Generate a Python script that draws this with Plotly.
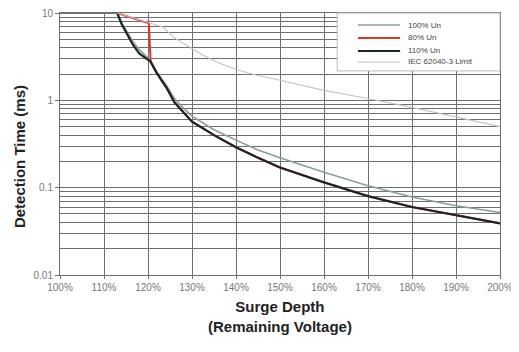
import plotly.graph_objects as go

# Surge depth (% of remaining voltage) and detection time (ms)
x_100 = [100, 113, 114.5, 116.6, 118, 119.5, 120.5, 122, 124.3, 126, 128, 130, 135, 140, 145, 150, 160, 170, 180, 190, 200]
y_100 = [10, 10, 7.0, 4.7, 3.8, 3.2, 2.9, 2.1, 1.45, 1.05, 0.82, 0.66, 0.46, 0.35, 0.27, 0.22, 0.15, 0.105, 0.078, 0.062, 0.052]

x_80 = [100, 113, 120.2, 120.6, 122, 124.3, 126, 128, 130, 135, 140, 145, 150, 160, 170, 180, 190, 200]
y_80 = [10, 10, 7.6, 2.8, 2.05, 1.37, 0.95, 0.73, 0.57, 0.4, 0.29, 0.22, 0.17, 0.115, 0.08, 0.06, 0.048, 0.039]

x_110 = [100, 113, 114, 115, 116.6, 118, 119.5, 120.5, 122, 124.3, 126, 128, 130, 135, 140, 145, 150, 160, 170, 180, 190, 200]
y_110 = [10, 10, 7.5, 6.0, 4.3, 3.45, 3.0, 2.8, 2.05, 1.37, 0.95, 0.73, 0.57, 0.4, 0.29, 0.22, 0.17, 0.115, 0.08, 0.06, 0.048, 0.039]

x_iec = [100, 113, 120, 123.4, 126, 130, 132, 136, 140, 145, 150, 160, 170, 180, 190, 200]
y_iec = [10, 10, 7.8, 6.9, 5.2, 3.9, 3.4, 2.7, 2.25, 1.92, 1.7, 1.30, 1.05, 0.83, 0.64, 0.5]

series_names = ["100% Un", "80% Un", "110% Un", "IEC 62040-3 Limit"]

x_ticks = [100, 110, 120, 130, 140, 150, 160, 170, 180, 190, 200]
x_tick_labels = ["100%", "110%", "120%", "130%", "140%", "150%", "160%", "170%", "180%", "190%", "200%"]
y_ticks = [0.01, 0.1, 1, 10]
y_tick_labels = ["0.01", "0.1", "1", "10"]

styles = [
    dict(color="#8a9d9d", width=1.6),
    dict(color="#e8322a", width=2),
    dict(color="#1c2626", width=2.2),
    dict(color="#c4c4c4", width=1.1),
]

fig = go.Figure()
for xs, ys, nm, st in zip([x_100, x_80, x_110, x_iec], [y_100, y_80, y_110, y_iec], series_names, styles):
    fig.add_trace(go.Scatter(x=xs, y=ys, mode="lines", name=nm, line=st, showlegend=False))

# legend box (drawn manually for compact spacing)
fig.add_shape(type="rect", xref="paper", yref="paper", x0=0.63, x1=1.0, y0=0.779, y1=1.0,
              fillcolor="white", line=dict(color="#bbbbbb", width=1), layer="above")
leg_y = [0.954, 0.905, 0.855, 0.813]
for nm, st, yy in zip(series_names, styles, leg_y):
    fig.add_shape(type="line", xref="paper", yref="paper", x0=0.677, x1=0.773, y0=yy, y1=yy,
                  line=st, layer="above")
    fig.add_annotation(xref="paper", yref="paper", x=0.787, y=yy, text=nm, showarrow=False,
                       xanchor="left", yanchor="middle", font=dict(size=8, color="#444"))

# axis titles
fig.add_annotation(xref="paper", yref="paper", x=0.5, y=-0.08, yanchor="top",
                   text="<b>Surge Depth<br>(Remaining Voltage)</b>", showarrow=False,
                   font=dict(size=15, color="#222"))
fig.add_annotation(xref="paper", yref="paper", x=-0.117, y=0.45, textangle=-90,
                   text="<b>Detection Time (ms)</b>", showarrow=False,
                   font=dict(size=15, color="#222"))

fig.update_layout(
    width=511, height=344,
    margin=dict(l=52, r=19, t=5, b=77),
    paper_bgcolor="white", plot_bgcolor="white",
    font=dict(family="Liberation Sans, Arial, sans-serif", color="#555"),
    showlegend=False,
    xaxis=dict(range=[100, 200], tickvals=x_ticks, ticktext=x_tick_labels,
               showgrid=True, gridcolor="#6f6f6f", gridwidth=1, automargin=False,
               showline=True, linecolor="#6f6f6f", mirror=True,
               ticks="outside", ticklen=3, tickcolor="#6f6f6f", ticklabeloverflow="allow",
               tickfont=dict(size=10, color="#777"), zeroline=False),
    yaxis=dict(type="log", range=[-2, 1], tickvals=y_ticks, ticktext=y_tick_labels,
               showgrid=True, gridcolor="#6f6f6f", gridwidth=1, automargin=False,
               minor=dict(dtick="D1", showgrid=True, gridcolor="#6f6f6f", gridwidth=1),
               showline=True, linecolor="#6f6f6f", mirror=True,
               ticks="outside", ticklen=4, tickcolor="#6f6f6f", ticklabeloverflow="allow",
               tickfont=dict(size=10, color="#777"), zeroline=False),
)

fig.write_html("out.html")
